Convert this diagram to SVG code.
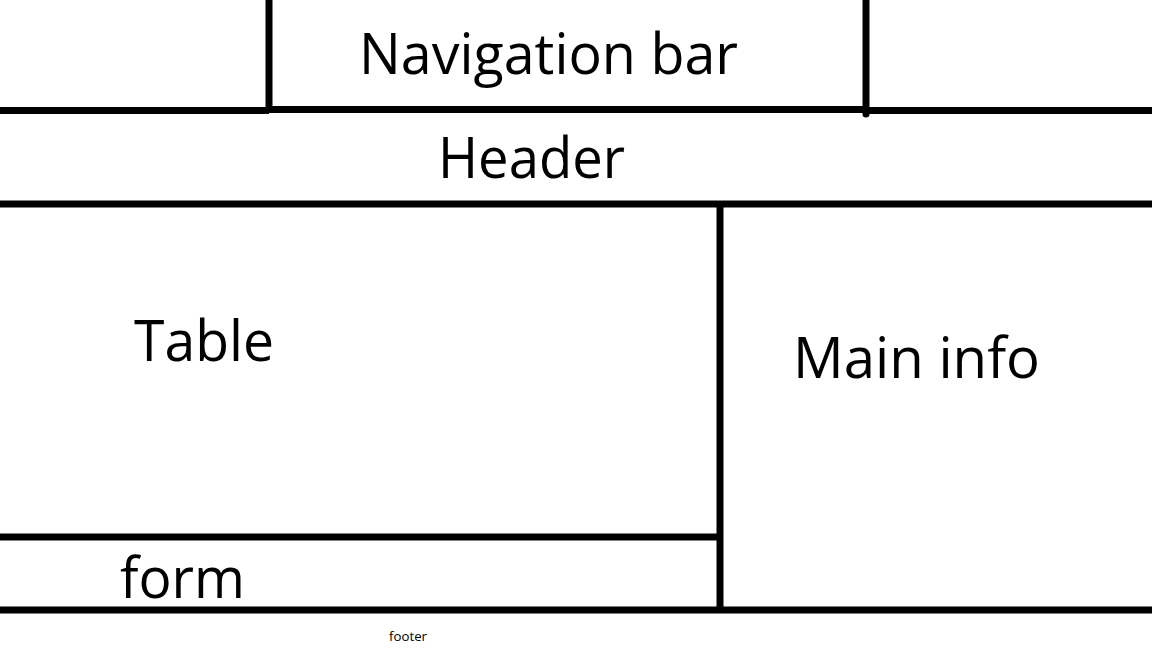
<svg xmlns="http://www.w3.org/2000/svg" width="1152" height="648" viewBox="0 0 1152 648">
<style>
.ln{stroke:#000;stroke-width:7;fill:none}
.big{font-family:"Open Sans","Liberation Sans",sans-serif;font-size:56px;fill:#000}
.small{font-family:"Open Sans","Liberation Sans",sans-serif;font-size:13px;fill:#000}
</style>
<rect width="1152" height="648" fill="#fff"/>
<g id="connectors">
<line class="ln" x1="0" y1="110.5" x2="269" y2="110.5"/>
<line class="ln" x1="269" y1="0" x2="269" y2="111"/>
<line class="ln" x1="269" y1="109.5" x2="866" y2="109.5"/>
<line class="ln" x1="866" y1="0" x2="866" y2="114" stroke-linecap="round"/>
<line class="ln" x1="866" y1="110.5" x2="1152" y2="110.5"/>
<line class="ln" x1="0" y1="204" x2="1152" y2="204"/>
<line class="ln" x1="720" y1="204" x2="720" y2="610"/>
<line class="ln" x1="0" y1="537" x2="720" y2="537"/>
<line class="ln" x1="0" y1="610" x2="1152" y2="610"/>
</g>
<g id="nav"><text class="big" x="359" y="74" textLength="379" lengthAdjust="spacingAndGlyphs">Navigation bar</text></g>
<g id="header"><text class="big" x="438" y="178" textLength="187" lengthAdjust="spacingAndGlyphs">Header</text></g>
<g id="table"><text class="big" x="134" y="361" textLength="140" lengthAdjust="spacingAndGlyphs">Table</text></g>
<g id="main"><text class="big" x="793" y="378" textLength="247" lengthAdjust="spacingAndGlyphs">Main info</text></g>
<g id="form"><text class="big" x="120" y="598" textLength="125" lengthAdjust="spacingAndGlyphs">form</text></g>
<g id="footer"><text class="small" x="389" y="641" textLength="38" lengthAdjust="spacingAndGlyphs">footer</text></g>
</svg>
